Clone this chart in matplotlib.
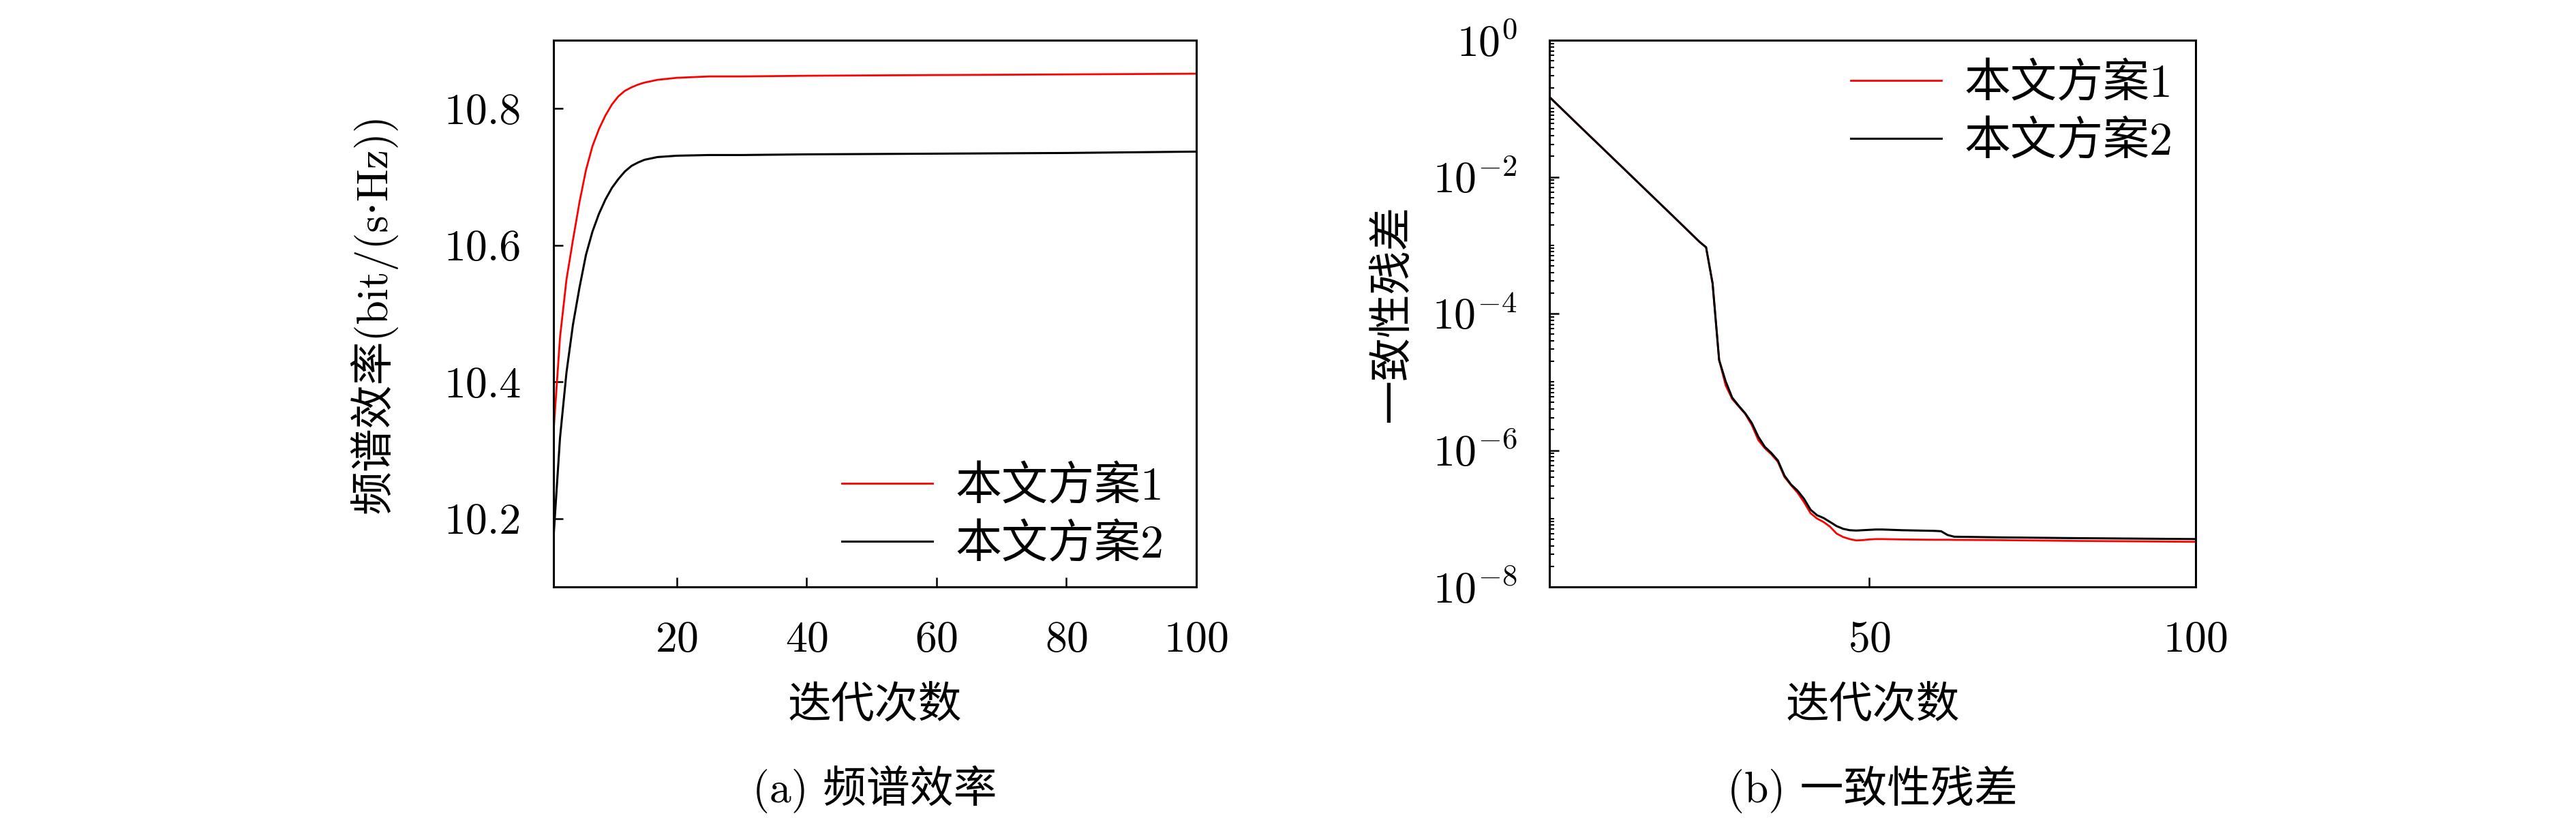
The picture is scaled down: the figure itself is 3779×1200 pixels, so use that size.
import numpy as np
import matplotlib
matplotlib.use("Agg")
import matplotlib.pyplot as plt
from matplotlib.ticker import FixedLocator, LogLocator, FuncFormatter, NullFormatter

## DATA ##
# (a) spectral efficiency vs iteration
iters_a = [1, 2, 3, 4, 5, 6, 7, 8, 9, 10, 11, 12, 13, 14, 15, 17, 20, 25, 30, 40, 60, 80, 100]
se_1 = [10.326, 10.465, 10.550, 10.608, 10.663, 10.710, 10.745, 10.770, 10.790, 10.806,
        10.818, 10.826, 10.831, 10.835, 10.838, 10.842, 10.845, 10.847, 10.847, 10.848,
        10.849, 10.850, 10.851]
se_2 = [10.172, 10.318, 10.414, 10.484, 10.538, 10.586, 10.620, 10.646, 10.667, 10.684,
        10.697, 10.708, 10.716, 10.721, 10.725, 10.729, 10.731, 10.732, 10.732, 10.733,
        10.734, 10.735, 10.737]

# (b) consensus residual vs iteration
iters_b = [1, 5, 10, 15, 20, 24, 25, 26, 27,
           28, 29, 30, 31, 32, 33, 34, 35, 36, 37, 38, 39, 40, 41,
           42, 43, 44, 45, 46, 47, 48, 49, 50, 51, 52,
           55, 60, 61, 62, 63, 70, 80, 100]
res_1 = [1.48e-1, 6.31e-2, 2.19e-2, 7.59e-3, 2.63e-3, 1.12e-3, 9.33e-4, 2.75e-4, 2.09e-5,
         8.91e-6, 5.62e-6, 4.37e-6, 3.39e-6, 2.34e-6, 1.41e-6, 1.07e-6, 8.71e-7, 6.76e-7,
         4.07e-7, 3.09e-7, 2.40e-7, 1.74e-7, 1.20e-7,
         1.00e-7, 8.91e-8, 7.59e-8, 6.03e-8, 5.37e-8, 5.01e-8, 4.79e-8, 4.84e-8, 4.95e-8,
         5.01e-8, 5.01e-8,
         4.95e-8, 4.90e-8, 4.90e-8, 4.90e-8, 4.88e-8, 4.84e-8, 4.73e-8, 4.57e-8]
res_2 = [1.48e-1, 6.31e-2, 2.19e-2, 7.59e-3, 2.63e-3, 1.12e-3, 9.33e-4, 2.75e-4, 2.09e-5,
         1.02e-5, 5.89e-6, 4.47e-6, 3.47e-6, 2.51e-6, 1.58e-6, 1.12e-6, 9.12e-7, 7.08e-7,
         4.27e-7, 3.16e-7, 2.57e-7, 1.95e-7, 1.35e-7,
         1.12e-7, 1.02e-7, 8.91e-8, 7.76e-8, 7.08e-8, 6.76e-8, 6.68e-8, 6.76e-8, 6.84e-8,
         6.92e-8, 6.92e-8,
         6.76e-8, 6.61e-8, 6.53e-8, 5.75e-8, 5.43e-8, 5.31e-8, 5.19e-8, 5.01e-8]

labels = ["本文方案1", "本文方案2"]
colors = ["#ff0000", "#000000"]

## STYLE ##
plt.rcParams["font.family"] = ["cmr10", "DejaVu Serif", "Noto Sans CJK SC"]
plt.rcParams["mathtext.fontset"] = "cm"
plt.rcParams["axes.formatter.use_mathtext"] = True
plt.rcParams["axes.unicode_minus"] = False
FS = 46
LEG_FS = 49

fig = plt.figure(figsize=(37.8, 12), dpi=100)
W, H = 3780.0, 1200.0


def px_axes(left, right, top, bottom):
    return [left / W, 1 - bottom / H, (right - left) / W, (bottom - top) / H]


def style_axes(ax):
    for sp in ax.spines.values():
        sp.set_linewidth(2.2)
    ax.tick_params(which="major", direction="in", length=10, width=1.8,
                   labelsize=FS, top=False, right=False)
    ax.tick_params(which="minor", direction="in", length=5, width=1.5,
                   top=False, right=False)
    ax.tick_params(axis="y", which="major", pad=34)
    ax.tick_params(axis="x", which="major", pad=36)


def add_legend(ax, x0, y0):
    ax.legend(loc="upper left", bbox_to_anchor=(x0 / W, 1 - y0 / H),
              bbox_transform=fig.transFigure, frameon=False, fontsize=LEG_FS,
              borderpad=0, borderaxespad=0, handlelength=1.95,
              handletextpad=0.5, labelspacing=0.32)


# (a)
ax1 = fig.add_axes(px_axes(812, 1755, 59, 861))
ax1.plot(iters_a, se_1, color=colors[0], lw=2.0, label=labels[0])
ax1.plot(iters_a, se_2, color=colors[1], lw=2.2, label=labels[1])
ax1.set_xlim(1, 100)
ax1.set_ylim(10.1, 10.9)
ax1.set_xticks([20, 40, 60, 80, 100])
ax1.set_yticks([10.2, 10.4, 10.6, 10.8])
ax1.yaxis.set_major_formatter(FuncFormatter(lambda v, p: f"{v:.1f}"))
style_axes(ax1)
ax1.set_xlabel("迭代次数", fontsize=FS)
ax1.xaxis.set_label_coords(0.5, -0.182)
ax1.set_ylabel("频谱效率(bit/(s·Hz))", fontsize=FS)
ax1.yaxis.set_label_coords(-0.243, 0.5)
add_legend(ax1, 1235, 683)

# (b)
ax2 = fig.add_axes(px_axes(2273, 3221, 59, 861))
ax2.plot(iters_b, res_1, color=colors[0], lw=2.0, label=labels[0])
ax2.plot(iters_b, res_2, color=colors[1], lw=2.2, label=labels[1])
ax2.set_yscale("log")
ax2.set_xlim(1, 100)
ax2.set_ylim(1e-8, 1e0)
ax2.set_xticks([50, 100])
ax2.yaxis.set_major_locator(FixedLocator([1e-8, 1e-6, 1e-4, 1e-2, 1e0]))
ax2.yaxis.set_major_formatter(
    FuncFormatter(lambda v, p: r"$10^{%d}$" % int(round(np.log10(v)))))
ax2.yaxis.set_minor_locator(LogLocator(base=10, subs=np.arange(1, 10), numticks=50))
ax2.yaxis.set_minor_formatter(NullFormatter())
style_axes(ax2)
ax2.set_xlabel("迭代次数", fontsize=FS)
ax2.xaxis.set_label_coords(0.5, -0.182)
ax2.set_ylabel("一致性残差", fontsize=FS)
ax2.yaxis.set_label_coords(-0.211, 0.5)
add_legend(ax2, 2715, 92)

# captions
fig.text(1283 / W, 1 - 1158 / H, "(a) 频谱效率", fontsize=FS, ha="center", va="center")
fig.text(2747 / W, 1 - 1158 / H, "(b) 一致性残差", fontsize=FS, ha="center", va="center")

fig.savefig("out.png", dpi=100)
